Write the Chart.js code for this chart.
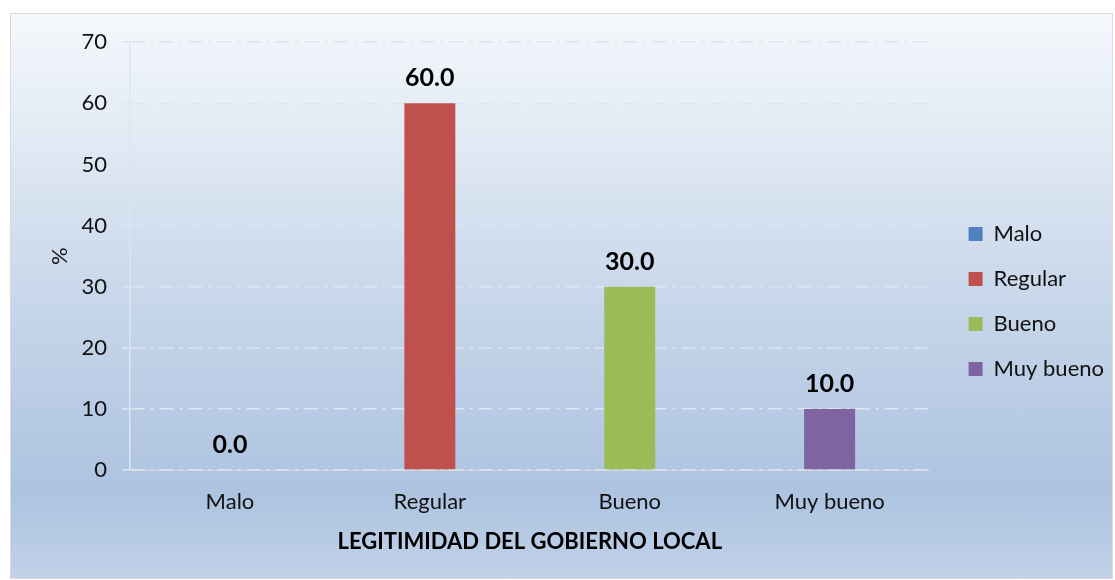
<!DOCTYPE html>
<html>
<head>
<meta charset="utf-8">
<script src="https://cdn.jsdelivr.net/npm/chart.js@4.4.0/dist/chart.umd.min.js"></script>
<style>
    html, body { margin: 0; padding: 0; background: #ffffff; }
    #wrap {
        position: absolute; left: 10px; top: 13px;
        width: 1101px; height: 564px;
        border: 1px solid #d9d9d9;
        background: linear-gradient(to bottom, #f5f8fc 0%, #c8d7ea 50%, #adc3e0 85%, #c1d2e8 100%);
    }
</style>
</head>
<body>
<div id="wrap"><canvas id="myChart"></canvas></div>
<script>
const labels = ["Malo", "Regular", "Bueno", "Muy bueno"];
const values = [0.0, 60.0, 30.0, 10.0];
const colors = ["#4f81bd", "#c0504d", "#9bbb59", "#8064a2"];
const yMin = 0;
const yMax = 70;
const yStep = 10;

const font = "Lato";
const gridColor = "#dce6f2";

// value labels above each bar
const valueLabels = {
    id: "valueLabels",
    afterDatasetsDraw(chart) {
        const ctx = chart.ctx;
        const meta = chart.getDatasetMeta(0);
        ctx.save();
        ctx.font = "bold 25px " + font;
        ctx.fillStyle = "#000000";
        ctx.textAlign = "center";
        ctx.textBaseline = "middle";
        meta.data.forEach((bar, i) => {
            ctx.fillText(values[i].toFixed(1), bar.x, bar.y - 25);
        });
        ctx.restore();
    },
};

const data = {
    labels: labels,
    datasets: [
        {
            data: values,
            backgroundColor: colors,
            borderWidth: 0,
            categoryPercentage: 1,
            barPercentage: 0.255,
        },
    ],
};

const config = {
    type: "bar",
    data,
    plugins: [valueLabels],
    options: {
        responsive: true,
        maintainAspectRatio: false,
        animation: false,
        layout: {
            padding: { top: 28, bottom: 17, left: 0, right: -2 },
        },
        plugins: {
            tooltip: { enabled: false },
            legend: {
                position: "right",
                align: "center",
                labels: {
                    boxWidth: 14,
                    boxHeight: 14,
                    padding: 23,
                    color: "#111111",
                    font: { family: font, size: 22 },
                    generateLabels: () =>
                        labels.map((l, i) => ({
                            text: l,
                            fillStyle: colors[i],
                            strokeStyle: colors[i],
                            lineWidth: 0,
                            hidden: false,
                            index: i,
                            fontColor: "#111111",
                        })),
                },
            },
        },
        scales: {
            x: {
                grid: { display: false },
                border: { display: true, color: "#d9d9d9", width: 1 },
                ticks: {
                    padding: 11,
                    color: "#111111",
                    font: { family: font, size: 22 },
                },
                title: {
                    display: true,
                    text: "LEGITIMIDAD DEL GOBIERNO LOCAL",
                    color: "#000000",
                    font: { family: font, size: 22, weight: "bold" },
                    padding: { top: 0, bottom: 6 },
                },
                afterFit: (s) => { s.height = 91; },
            },
            y: {
                min: yMin,
                max: yMax,
                ticks: {
                    stepSize: yStep,
                    padding: 15,
                    color: "#111111",
                    font: { family: font, size: 22 },
                },
                grid: {
                    color: gridColor,
                    tickColor: gridColor,
                    tickLength: 8,
                    lineWidth: 1.5,
                },
                border: { display: true, color: gridColor, width: 1.5, dash: [14, 6, 3, 6] },
                title: {
                    display: true,
                    text: "%",
                    color: "#111111",
                    font: { family: font, size: 22 },
                    padding: { top: 36, bottom: 0 },
                },
                afterFit: (s) => { s.width = 119; },
            },
            gap: {
                type: "linear",
                position: "right",
                display: true,
                grid: { display: false },
                border: { display: false },
                ticks: { display: false },
                afterFit: (s) => { s.width = 16; },
            },
        },
    },
};

const ctx = document.getElementById("myChart").getContext("2d");
const barChart = new Chart(ctx, config);
</script>
</body>
</html>
